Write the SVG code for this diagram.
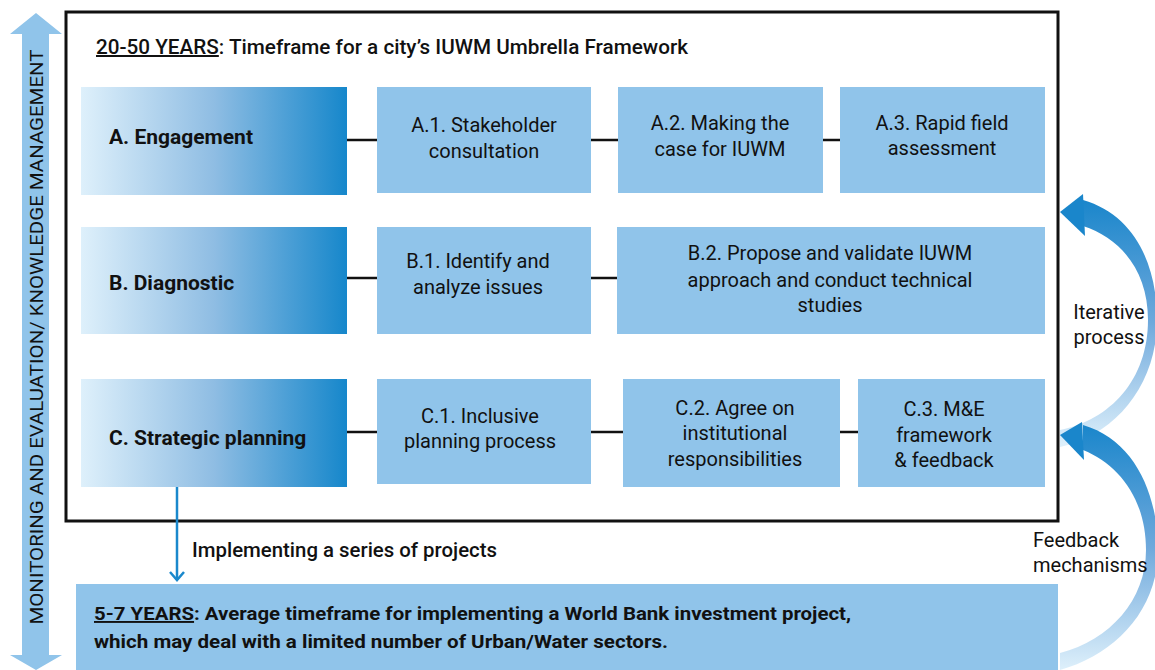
<svg xmlns="http://www.w3.org/2000/svg" width="1155" height="670" viewBox="0 0 1155 670">
<defs>
<linearGradient id="hg" x1="0" y1="0" x2="1" y2="0">
<stop offset="0" stop-color="#def0fb"/>
<stop offset="0.5" stop-color="#8fbde3"/>
<stop offset="1" stop-color="#1687cb"/>
</linearGradient>
<linearGradient id="ig" gradientUnits="userSpaceOnUse" x1="0" y1="200" x2="0" y2="445">
<stop offset="0" stop-color="#1a86cb"/>
<stop offset="0.5" stop-color="#6fa9dc"/>
<stop offset="1" stop-color="#def0fb"/>
</linearGradient>
<linearGradient id="fg" gradientUnits="userSpaceOnUse" x1="0" y1="425" x2="0" y2="670">
<stop offset="0" stop-color="#1a86cb"/>
<stop offset="0.5" stop-color="#6fa9dc"/>
<stop offset="1" stop-color="#def0fb"/>
</linearGradient>
</defs>
<style>
.t{font-family:Roboto,"Liberation Sans",sans-serif;fill:#111;}
.box{fill:#90c4ea;}
.hd{fill:url(#hg);}
.lbl{font-size:20px;text-anchor:middle;}
.bold{font-size:21px;font-weight:bold;}
.con{stroke:#111;stroke-width:2.5;fill:none;}
</style>
<g id="monitoring-arrow">
<polygon points="36,13 62,34 49,34 49,655 62,655 36,670 10,655 22,655 22,34 10,34" fill="#90c4ea"/>
<text class="t" transform="translate(43,337) rotate(-90)" text-anchor="middle" font-size="19" textLength="575" lengthAdjust="spacingAndGlyphs">MONITORING AND EVALUATION/ KNOWLEDGE MANAGEMENT</text>
</g>
<g id="frame">
<rect x="66" y="12" width="992" height="509" fill="none" stroke="#111" stroke-width="3"/>
<text class="t" x="96" y="54" font-size="20" font-weight="500" textLength="592" lengthAdjust="spacingAndGlyphs"><tspan text-decoration="underline">20-50 YEARS</tspan>: Timeframe for a city’s IUWM Umbrella Framework</text>
</g>
<g id="connectors">
<line class="con" x1="347" y1="140" x2="377" y2="140"/>
<line class="con" x1="591" y1="140" x2="618" y2="140"/>
<line class="con" x1="823" y1="140" x2="840" y2="140"/>
<line class="con" x1="347" y1="278" x2="377" y2="278"/>
<line class="con" x1="591" y1="278" x2="617" y2="278"/>
<line class="con" x1="347" y1="432" x2="377" y2="432"/>
<line class="con" x1="591" y1="432" x2="623" y2="432"/>
<line class="con" x1="840" y1="432" x2="858" y2="432"/>
<line x1="177" y1="487" x2="177" y2="580" stroke="#1a88cc" stroke-width="2.5"/>
<polyline points="170,572 177,580 184,572" fill="none" stroke="#1a88cc" stroke-width="2.5"/>
</g>
<g id="A">
<rect class="hd" x="81" y="87" width="266" height="108"/>
<text class="t bold" x="109" y="144">A. Engagement</text>
</g>
<g id="A1"><rect class="box" x="377" y="87" width="214" height="106"/>
<text class="t lbl" x="484" y="132">A.1. Stakeholder</text><text class="t lbl" x="484" y="158">consultation</text></g>
<g id="A2"><rect class="box" x="618" y="87" width="205" height="106"/>
<text class="t lbl" x="720" y="130">A.2. Making the</text><text class="t lbl" x="720" y="156">case for IUWM</text></g>
<g id="A3"><rect class="box" x="840" y="87" width="205" height="106"/>
<text class="t lbl" x="942" y="130">A.3. Rapid field</text><text class="t lbl" x="942" y="155">assessment</text></g>
<g id="B">
<rect class="hd" x="81" y="227" width="266" height="107"/>
<text class="t bold" x="109" y="290">B. Diagnostic</text>
</g>
<g id="B1"><rect class="box" x="377" y="227" width="214" height="107"/>
<text class="t lbl" x="478" y="268">B.1. Identify and</text><text class="t lbl" x="478" y="294">analyze issues</text></g>
<g id="B2"><rect class="box" x="617" y="227" width="428" height="107"/>
<text class="t lbl" x="830" y="260">B.2. Propose and validate IUWM</text><text class="t lbl" x="830" y="287">approach and conduct technical</text><text class="t lbl" x="830" y="312">studies</text></g>
<g id="C">
<rect class="hd" x="81" y="379" width="266" height="108"/>
<text class="t bold" x="109" y="445">C. Strategic planning</text>
</g>
<g id="C1"><rect class="box" x="377" y="379" width="214" height="105"/>
<text class="t lbl" x="480" y="423">C.1. Inclusive</text><text class="t lbl" x="480" y="448">planning process</text></g>
<g id="C2"><rect class="box" x="623" y="379" width="217" height="108"/>
<text class="t lbl" x="735" y="415">C.2. Agree on</text><text class="t lbl" x="735" y="440">institutional</text><text class="t lbl" x="735" y="466">responsibilities</text></g>
<g id="C3"><rect class="box" x="858" y="379" width="187" height="108"/>
<text class="t lbl" x="944" y="416">C.3. M&amp;E</text><text class="t lbl" x="944" y="442">framework</text><text class="t lbl" x="944" y="467">&amp; feedback</text></g>
<g id="implementing-label">
<text class="t" x="192" y="557" font-size="20" font-weight="500" textLength="305" lengthAdjust="spacingAndGlyphs">Implementing a series of projects</text>
</g>
<g id="bottom">
<rect class="box" x="76" y="584" width="982" height="86"/>
<text class="t" x="94" y="620" font-size="19" font-weight="bold" textLength="757" lengthAdjust="spacingAndGlyphs"><tspan text-decoration="underline">5-7 YEARS</tspan>: Average timeframe for implementing a World Bank investment project,</text>
<text class="t" x="94" y="648" font-size="19" font-weight="bold" textLength="574" lengthAdjust="spacingAndGlyphs">which may deal with a limited number of Urban/Water sectors.</text>
</g>
<g id="iterative">
<path d="M1083,200 C1135,215 1157,265 1157,320 C1157,385 1115,435 1060,447 L1060,430 C1110,420 1148,380 1148,320 C1148,270 1120,238 1083,226 Z" fill="url(#ig)"/>
<polygon points="1060,212 1083,194 1085,236" fill="#1a86cb"/>
<text class="t" x="1109" y="319" font-size="20" text-anchor="middle">Iterative</text>
<text class="t" x="1109" y="344" font-size="20" text-anchor="middle">process</text>
</g>
<g id="feedback">
<path d="M1083,425 C1135,440 1158,495 1158,550 C1158,610 1115,655 1060,670 L1060,653 C1110,640 1146,600 1146,550 C1146,500 1120,465 1083,450 Z" fill="url(#fg)"/>
<polygon points="1060,435 1082,422 1084,460" fill="#1a86cb"/>
<text class="t" x="1033" y="547" font-size="20">Feedback</text>
<text class="t" x="1033" y="572" font-size="20">mechanisms</text>
</g>
</svg>
